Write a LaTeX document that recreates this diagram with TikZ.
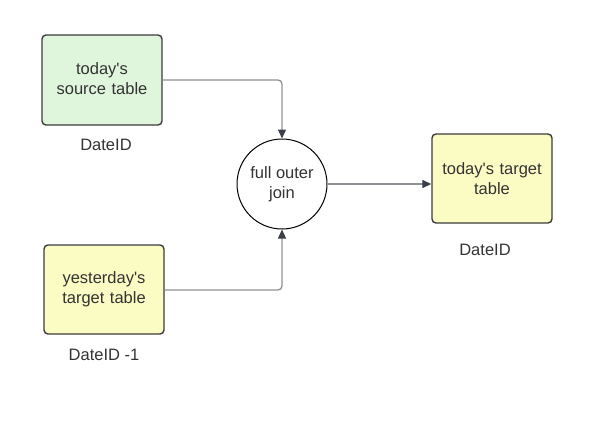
\documentclass[tikz,border=0pt]{standalone}
\usepackage{fontspec}
\setmainfont{Liberation Sans}[Ligatures=TeXOff]
\usetikzlibrary{arrows.meta}
\definecolor{boxgreen}{HTML}{DFF5DC}
\definecolor{boxyellow}{HTML}{FBFBC4}
\definecolor{edge}{HTML}{3C3C3C}
\definecolor{conn}{HTML}{8E9096}
\definecolor{tip}{HTML}{3A3F4A}
\definecolor{txt}{HTML}{333333}
\begin{document}
\begin{tikzpicture}[x=1pt,y=-1pt,
  tbl/.style={draw=edge,line width=1.4pt,rounded corners=4pt,minimum width=120pt,text width=116pt,align=center,inner sep=0pt,text=txt,font=\fontsize{16.5}{20}\selectfont},
  lbl/.style={text=txt,font=\fontsize{16.5}{18}\selectfont,inner sep=0pt},
  joinc/.style={draw=black,line width=1pt,circle,minimum size=90pt,inner sep=0pt,align=center,text=txt,font=\fontsize{16.5}{20}\selectfont},
  conn/.style={draw=conn,line width=1.3pt,rounded corners=4pt,-{Triangle[length=9pt,width=8pt,color=tip]}}]
\useasboundingbox (0,0) rectangle (603,432);
\node[tbl,fill=boxgreen,minimum height=90pt] (src) at (102,80) {today's\\source table\vphantom{y}\\[-2pt]};
\node[lbl] (srcid) at (106,145) {DateID};
\node[tbl,fill=boxyellow,minimum height=89pt] (yst) at (104,289.5) {yesterday's\\target table\\[-2pt]};
\node[lbl] (ystid) at (104,355) {DateID -1};
\node[joinc] (join) at (282,184) {full outer\\join};
\node[tbl,fill=boxyellow,minimum height=89pt] (tgt) at (492,178.5) {today's target\\table\\[-2pt]};
\node[lbl] (tgtid) at (485,250) {DateID};
\draw[conn] (src.east |- 0,80) -| (join.north);
\draw[conn] (yst.east |- 0,290) -| (join.south);
\draw[conn] (join.east) -- (tgt.west |- join.east);
\end{tikzpicture}
\end{document}
